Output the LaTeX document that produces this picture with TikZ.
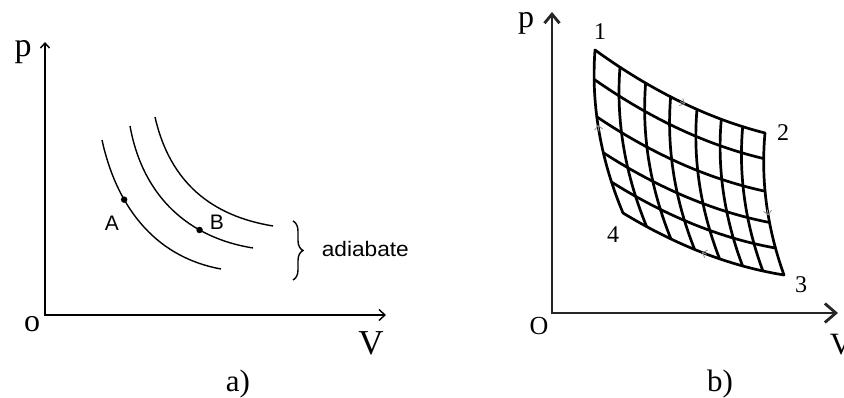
\documentclass[tikz,border=0pt]{standalone}
\usepackage{fontspec}
\setmainfont{Liberation Serif}
\setsansfont{Liberation Sans}
\usetikzlibrary{arrows.meta,decorations.pathreplacing}
\definecolor{ink}{HTML}{000000}
\definecolor{axisgray}{HTML}{262626}
\definecolor{flowgray}{HTML}{8C8C8C}
\tikzset{
  axisA/.style={
    {Straight Barb[length=5pt,width=9pt]}-{Straight Barb[length=6pt,width=11pt]},
    line width=1.4pt,draw=ink
  },
  axisB/.style={
    {Straight Barb[length=9pt,width=15pt]}-{Straight Barb[length=11pt,width=19pt]},
    line width=2.8pt,draw=axisgray
  },
  adiabat/.style={line width=1.4pt,draw=ink},
  gridline/.style={line width=2.7pt,draw=ink,line join=round,line cap=round},
  flowtip/.style={-{Straight Barb[length=4pt,width=8pt]},line width=.8pt,draw=flowgray},
  curly/.style={decorate,decoration={brace,amplitude=10pt},line width=1.4pt,draw=ink},
  dot/.style={circle,fill=ink,inner sep=0pt,minimum size=6.5pt},
  axlabel/.style={font=\fontsize{34}{34}\selectfont,text=ink},
  numlabel/.style={font=\fontsize{24}{24}\selectfont,text=ink},
  caption/.style={font=\fontsize{31}{31}\selectfont,text=ink},
  pointlabel/.style={font=\sffamily\fontsize{21}{21}\selectfont,text=ink},
  % Coons patch of the curved cycle 1-2-3-4
  declare function={
    cx(\s,\t)=(1-\s)*(1-\t)*595+\s*(1-\t)*765+\s*\t*784+(1-\s)*\t*623
      -(1-\s)*40*\t*(1-\t)-\s*32*\t*(1-\t);
    cy(\s,\t)=(1-\s)*(1-\t)*348+\s*(1-\t)*265+\s*\t*123+(1-\s)*\t*185
      -(1-\t)*40*\s*(1-\s)-\t*36*\s*(1-\s);
  }
}

\begin{document}
\begin{tikzpicture}[x=1pt,y=1pt]
  \useasboundingbox (0,0) rectangle (844,398);

  % panel a: three adiabats
  \coordinate (Oa) at (45,83);
  \coordinate (pa) at (45,356);
  \coordinate (Va) at (386,83);
  \draw[axisA] (pa) -- (Oa) -- (Va);
  \node[axlabel] (plabA) at (23,346) {p};
  \node[axlabel,font=\fontsize{32}{32}\selectfont] (olabA) at (32,74) {o};
  \node[axlabel,font=\fontsize{35}{35}\selectfont] (VlabA) at (371,55) {V};

  \draw[adiabat] (102,258) .. controls (118,185) and (160,140) .. (221,129)
    node[dot,pos=.31] (A) {};
  \draw[adiabat] (130,272) .. controls (143,200) and (190,160) .. (253,150)
    node[dot,pos=.69] (B) {};
  \draw[adiabat] (155,281) .. controls (170,215) and (212,182) .. (273,172);
  \node[pointlabel] (labA) at (112,175) {A};
  \node[pointlabel] (labB) at (217,176) {B};

  \coordinate (brTop) at (293,177);
  \coordinate (brBot) at (293,118);
  \draw[curly] (brTop) -- (brBot);
  \node[pointlabel,anchor=west,xscale=1.08,transform shape] (adia) at (318,149) {adiabate};

  \node[caption] (capA) at (238,14) {a)};

  % panel b: cycle split into small Carnot cycles
  \coordinate (Ob) at (552,85);
  \coordinate (pb) at (552,386);
  \coordinate (Vb) at (838,85);
  \draw[axisB] (pb) -- (Ob) -- (Vb);
  \node[axlabel,font=\fontsize{32}{32}\selectfont] (plabB) at (526,375) {p};
  \node[axlabel,font=\fontsize{26}{26}\selectfont] (olabB) at (539,72) {O};
  \node[axlabel,font=\fontsize{31}{31}\selectfont] (VlabB) at (841,53) {V};

  \foreach \vv in {0,0.18,0.41,0.63,0.81,1}
    \draw[gridline] plot[domain=0:1,samples=30,smooth] ({cx(\x,\vv)},{cy(\x,\vv)});
  \foreach \uu in {0,0.147,0.298,0.445,0.6,0.743,0.869,1}
    \draw[gridline] plot[domain=0:1,samples=30,smooth] ({cx(\uu,\x)},{cy(\uu,\x)});

  % direction of the cycle
  \coordinate (t0) at ({cx(0.50,0)},{cy(0.50,0)});
  \coordinate (t1) at ({cx(0.53,0)},{cy(0.53,0)});
  \coordinate (r0) at ({cx(1,0.54)},{cy(1,0.54)});
  \coordinate (r1) at ({cx(1,0.58)},{cy(1,0.58)});
  \coordinate (b0) at ({cx(0.52,1)},{cy(0.52,1)});
  \coordinate (b1) at ({cx(0.49,1)},{cy(0.49,1)});
  \coordinate (l0) at ({cx(0,0.50)},{cy(0,0.50)});
  \coordinate (l1) at ({cx(0,0.46)},{cy(0,0.46)});
  \draw[flowtip] (t0) -- (t1);
  \draw[flowtip] (r0) -- (r1);
  \draw[flowtip] (b0) -- (b1);
  \draw[flowtip] (l0) -- (l1);

  \node[numlabel] (n1) at (600,366) {1};
  \node[numlabel] (n2) at (783,265) {2};
  \node[numlabel] (n3) at (801,113) {3};
  \node[numlabel] (n4) at (613,163) {4};

  \node[caption] (capB) at (720,14) {b)};
\end{tikzpicture}
\end{document}
